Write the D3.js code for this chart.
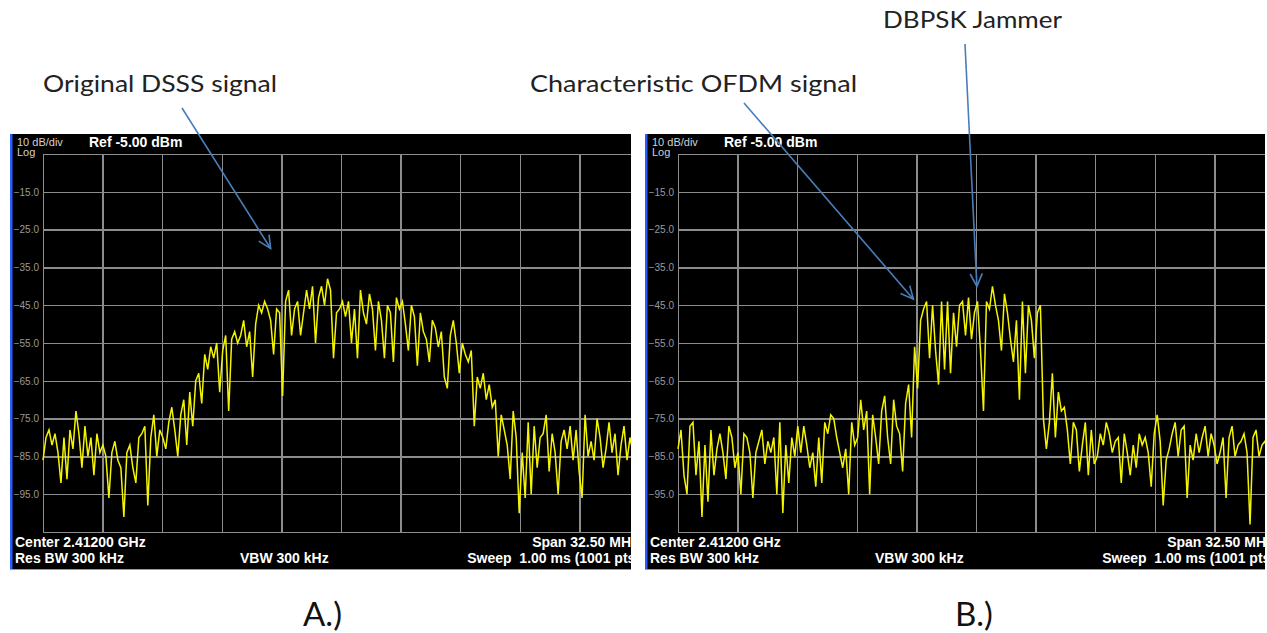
<!DOCTYPE html>
<html><head><meta charset="utf-8">
<script src="https://cdn.jsdelivr.net/npm/d3@7"></script>
<style>html,body{margin:0;padding:0;background:#fff;overflow:hidden}svg{display:block}</style>
</head><body>
<svg id="c" width="1267" height="633"></svg>
<script>
// ---------- data ----------
const yTickValues = [-15, -25, -35, -45, -55, -65, -75, -85, -95];
const yDomain = [-105, -5];            // 10 dB/div, Ref -5 dBm
const headerLeft = "10 dB/div";
const headerLog = "Log";
const headerRef = "Ref -5.00 dBm";
const footerCenter = "Center 2.41200 GHz";
const footerRbw = "Res BW 300 kHz";
const footerVbw = "VBW 300 kHz";
const footerSpan = "Span 32.50 MHz";
const footerSweep = "Sweep\u00a0\u00a01.00 ms (1001 pts)";
const panelLabels = ["A.)", "B.)"];
const annotationTexts = ["Original DSSS signal", "Characteristic OFDM signal", "DBPSK Jammer"];

// trace A (Original DSSS signal), dBm, 200 samples across the span
const traceA = [
 -86,-80,-78,-82,-79,-84,-92,-80,-91,-78,-83,-73,-79,-88,-77,-85,-80,-90,-79,-84,
 -82,-85,-96,-84,-81,-86,-88,-101,-84,-82,-88,-92,-80,-79,-77,-98,-80,-74,-85,-78,
 -80,-83,-76,-72,-78,-85,-74,-70,-82,-68,-77,-65,-63,-71,-58,-62,-56,-59,-55,-68,
 -57,-53,-73,-54,-52,-55,-53,-49,-56,-52,-64,-50,-45,-47,-44,-46,-49,-58,-46,-47,
 -69,-44,-41,-53,-46,-44,-53,-47,-41,-46,-40,-55,-43,-40,-45,-38,-41,-59,-47,-46,
 -44,-48,-44,-55,-46,-59,-41,-47,-50,-42,-46,-57,-44,-49,-59,-45,-47,-60,-43,-46,
 -44,-50,-57,-45,-48,-61,-47,-52,-54,-60,-49,-51,-56,-52,-64,-67,-53,-49,-55,-63,
 -55,-58,-60,-57,-77,-64,-67,-63,-70,-66,-72,-70,-85,-74,-78,-82,-91,-73,-80,-100,
 -84,-96,-76,-95,-77,-88,-80,-79,-74,-89,-79,-84,-95,-81,-78,-83,-77,-86,-78,-89,
 -96,-74,-85,-81,-86,-75,-80,-88,-83,-76,-84,-79,-90,-82,-77,-86,-80,-84,-81,-85
];

// trace B (OFDM signal + DBPSK jammer), dBm, 200 samples across the span
const traceB = [
 -83,-78,-90,-95,-77,-76,-90,-81,-101,-82,-97,-78,-90,-83,-79,-84,-91,-77,-80,-88,
 -84,-95,-79,-80,-84,-96,-84,-81,-78,-87,-81,-84,-80,-95,-76,-100,-82,-92,-80,-85,
 -77,-84,-77,-82,-88,-84,-93,-80,-92,-76,-79,-74,-75,-80,-84,-88,-83,-95,-76,-82,
 -80,-70,-78,-73,-95,-74,-80,-87,-73,-69,-80,-87,-70,-77,-79,-89,-71,-66,-80,-56,
 -67,-49,-46,-44,-59,-45,-57,-66,-44,-62,-44,-63,-47,-56,-45,-44,-53,-43,-54,-47,
 -44,-57,-73,-44,-46,-40,-45,-49,-57,-42,-47,-54,-60,-49,-70,-44,-63,-45,-49,-59,
 -47,-45,-75,-83,-76,-63,-80,-68,-73,-72,-78,-87,-76,-78,-89,-82,-76,-90,-78,-87,
 -85,-79,-82,-76,-79,-84,-81,-80,-92,-79,-84,-90,-82,-88,-79,-82,-80,-84,-93,-79,
 -74,-81,-98,-86,-83,-79,-76,-85,-78,-77,-96,-82,-86,-79,-84,-80,-77,-85,-79,-82,
 -87,-84,-80,-96,-80,-77,-85,-82,-81,-79,-84,-103,-80,-78,-85,-82,-81,-84,-80,-83
];

// ---------- layout ----------
const svg = d3.select("#c");
const panels = [
  {trace: traceA, px: 10, pw: 621, plotX: 43, label: panelLabels[0], labelX: 303},
  {trace: traceB, px: 645, pw: 620, plotX: 678, label: panelLabels[1], labelX: 955}
];
const panelTop = 134, panelBottom = 570, plotTop = 154, plotBottom = 532, plotW = 596;
const defs = svg.append("defs");
const ff = "Liberation Sans, Arial, sans-serif";

const scales = [];
panels.forEach((p, k) => {
  const clipId = "clip" + k;
  defs.append("clipPath").attr("id", clipId)
    .append("rect").attr("x", p.px).attr("y", panelTop).attr("width", p.pw).attr("height", panelBottom - panelTop);

  const g = svg.append("g").attr("clip-path", `url(#${clipId})`);
  g.append("rect").attr("x", p.px).attr("y", panelTop).attr("width", p.pw).attr("height", panelBottom - panelTop).attr("fill", "#000");
  g.append("rect").attr("x", p.px).attr("y", panelTop).attr("width", 2.5).attr("height", panelBottom - panelTop).attr("fill", "#2a5cff");
  g.append("rect").attr("x", p.px).attr("y", panelBottom - 1).attr("width", p.pw).attr("height", 1).attr("fill", "#9a9a9a");

  const x = d3.scaleLinear().domain([0, p.trace.length - 1]).range([p.plotX, p.plotX + plotW]);
  const y = d3.scaleLinear().domain(yDomain).range([plotBottom, plotTop]);
  scales.push({x, y});

  // grid: horizontal
  const gy = g.append("g").attr("transform", `translate(${p.plotX},0)`)
    .call(d3.axisLeft(y).tickValues(d3.range(-105, -4, 10)).tickSize(-plotW).tickFormat(""));
  gy.select(".domain").remove();
  // grid: vertical
  const xGrid = d3.scaleLinear().domain([0, 10]).range([p.plotX, p.plotX + plotW]);
  const gx = g.append("g").attr("transform", `translate(0,${plotBottom})`)
    .call(d3.axisBottom(xGrid).tickValues(d3.range(0, 11)).tickSize(-(plotBottom - plotTop)).tickFormat(""));
  gx.select(".domain").remove();
  g.selectAll(".tick line").attr("stroke", "#8c8c8c").attr("stroke-width", 1.4).attr("shape-rendering", "crispEdges");

  // y tick labels
  const yl = g.append("g").attr("transform", `translate(${p.plotX},0)`)
    .call(d3.axisLeft(y).tickValues(yTickValues).tickSize(0).tickPadding(4).tickFormat(d3.format(".1f")));
  yl.select(".domain").remove();
  yl.selectAll("text").attr("fill", "#9a9a9a").style("font-family", ff).style("font-size", "10px");

  // trace
  const line = d3.line().x((d, i) => x(i)).y(d => y(d));
  g.append("path").datum(p.trace).attr("d", line)
    .attr("fill", "none").attr("stroke", "#f4f400").attr("stroke-width", 1.5).attr("stroke-linejoin", "miter");

  // header text
  g.append("text").attr("x", p.px + 7).attr("y", 145.5).text(headerLeft)
    .attr("fill", "#d0d0d0").style("font-family", ff).style("font-size", "11px");
  g.append("text").attr("x", p.px + 7).attr("y", 156).text(headerLog)
    .attr("fill", "#d0d0d0").style("font-family", ff).style("font-size", "11px");
  g.append("text").attr("x", p.px + 79).attr("y", 147).text(headerRef)
    .attr("fill", "#fff").style("font-family", ff).style("font-size", "14px").style("font-weight", "bold");

  // footer text
  const ft = (txt, xx, yy, anchor) => g.append("text").attr("x", xx).attr("y", yy).text(txt)
    .attr("text-anchor", anchor).attr("fill", "#fff")
    .style("font-family", ff).style("font-size", "14px").style("font-weight", "bold");
  ft(footerCenter, p.px + 5, 547, "start");
  ft(footerRbw, p.px + 5, 563, "start");
  ft(footerVbw, p.px + 230, 563, "start");
  ft(footerSpan, p.px + 628, 547, "end");
  ft(footerSweep, p.px + 630, 563, "end");

  // panel caption
  svg.append("text").attr("x", p.labelX).attr("y", 626).text(p.label)
    .attr("fill", "#111").style("font-family", "Lato, 'Open Sans', sans-serif").style("font-size", "33px");
});

// ---------- annotations ----------
const annFont = "Lato, 'Open Sans', sans-serif";
const ann = [
  {text: annotationTexts[0], x: 43, y: 92, len: 234},
  {text: annotationTexts[1], x: 530, y: 92, len: 327},
  {text: annotationTexts[2], x: 883, y: 28, len: 179}
];
svg.selectAll("text.ann").data(ann).join("text").attr("class", "ann")
  .attr("x", d => d.x).attr("y", d => d.y).attr("textLength", d => d.len).attr("lengthAdjust", "spacingAndGlyphs")
  .text(d => d.text).attr("fill", "#222").style("font-family", annFont).style("font-size", "24px");

// arrows: start near label, tip at (sample index, dBm) in the panel's scales
const arrows = [
  {sx: 182, sy: 108, panel: 0, ti: 76, tv: -30.0},
  {sx: 744, sy: 103, panel: 1, ti: 78.6, tv: -43.4},
  {sx: 965, sy: 44, panel: 1, ti: 99.8, tv: -40.0}
];
const ag = svg.append("g");
arrows.forEach(a => {
  const tx = scales[a.panel].x(a.ti), ty = scales[a.panel].y(a.tv);
  const ang = Math.atan2(ty - a.sy, tx - a.sx);
  const L = 14, sp = 0.45;
  ag.append("line").attr("x1", a.sx).attr("y1", a.sy).attr("x2", tx).attr("y2", ty)
    .attr("stroke", "#4a7ebb").attr("stroke-width", 1.6);
  ag.append("path")
    .attr("d", `M${tx - L * Math.cos(ang - sp)},${ty - L * Math.sin(ang - sp)} L${tx},${ty} L${tx - L * Math.cos(ang + sp)},${ty - L * Math.sin(ang + sp)}`)
    .attr("fill", "none").attr("stroke", "#4a7ebb").attr("stroke-width", 1.6).attr("stroke-linejoin", "miter");
});
</script>
</body></html>
